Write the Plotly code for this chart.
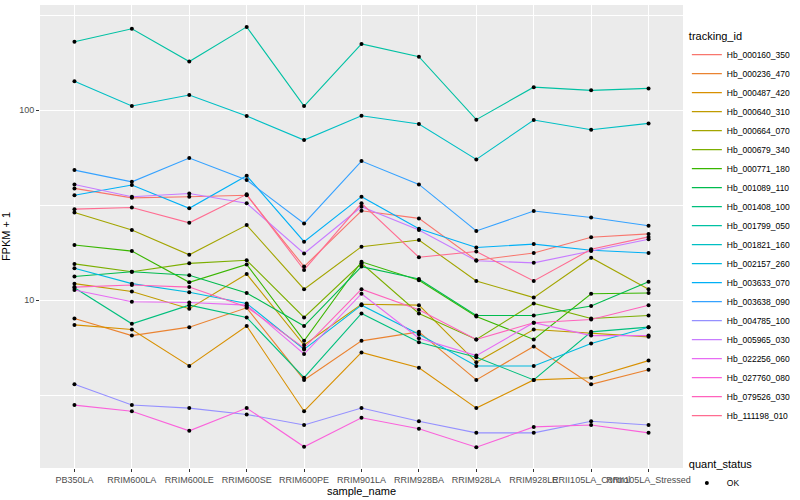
import plotly.graph_objects as go

samples = ["PB350LA", "RRIM600LA", "RRIM600LE", "RRIM600SE", "RRIM600PE",
           "RRIM901LA", "RRIM928BA", "RRIM928LA", "RRIM928LE",
           "RRII105LA_Control", "RRII105LA_Stressed"]

tracking_ids = ["Hb_000160_350", "Hb_000236_470", "Hb_000487_420", "Hb_000640_310",
                "Hb_000664_070", "Hb_000679_340", "Hb_000771_180", "Hb_001089_110",
                "Hb_001408_100", "Hb_001799_050", "Hb_001821_160", "Hb_002157_260",
                "Hb_003633_070", "Hb_003638_090", "Hb_004785_100", "Hb_005965_030",
                "Hb_022256_060", "Hb_027760_080", "Hb_079526_030", "Hb_111198_010"]

colors = ["#F8766D", "#EA8331", "#D89000", "#C09B00", "#A3A500", "#7CAE00", "#39B600",
          "#00BB4E", "#00BF7D", "#00C1A3", "#00BFC4", "#00BAE0", "#00B0F6", "#35A2FF",
          "#9590FF", "#C77CFF", "#E76BF3", "#FA62DB", "#FF62BC", "#FF6C91"]

# FPKM + 1 per sample (order of `samples`)
hb_000160_350 = [38.7, 34.5, 35.0, 35.6, 15.0, 29.5, 26.9, 16.2, 17.7, 21.4, 22.3]
hb_000236_470 = [8.0, 6.5, 7.2, 9.1, 3.8, 6.1, 6.8, 3.8, 5.7, 3.6, 4.3]
hb_000487_420 = [7.4, 7.0, 4.5, 7.3, 2.6, 5.3, 4.4, 2.7, 3.8, 3.9, 4.8]
hb_000640_310 = [12.2, 11.1, 9.0, 13.7, 5.8, 9.5, 9.4, 4.7, 7.0, 6.7, 6.4]
hb_000664_070 = [28.9, 23.4, 17.3, 24.8, 11.4, 19.1, 20.7, 12.6, 10.3, 16.7, 11.4]
hb_000679_340 = [15.5, 14.1, 15.6, 16.2, 8.1, 15.6, 8.5, 6.2, 9.6, 8.0, 8.3]
hb_000771_180 = [19.5, 18.1, 12.4, 15.4, 6.1, 15.9, 12.7, 8.2, 6.2, 10.8, 10.9]
hb_001089_110 = [13.3, 14.1, 13.5, 10.9, 7.3, 15.0, 12.9, 8.3, 8.3, 9.3, 12.5]
hb_001408_100 = [11.6, 7.5, 9.4, 8.1, 3.9, 8.5, 6.0, 5.0, 3.8, 6.8, 7.2]
hb_001799_050 = [229, 268, 180, 274, 105, 223, 191, 89, 132, 127, 130]
hb_001821_160 = [142, 105, 120, 93, 69.5, 93.3, 84.4, 55.0, 88.6, 78.8, 85.1]
hb_002157_260 = [14.7, 12.2, 11.0, 9.6, 5.5, 9.4, 6.6, 4.5, 4.5, 5.9, 7.2]
hb_003633_070 = [35.6, 40.3, 30.4, 45.1, 20.3, 35.0, 23.7, 18.9, 19.7, 18.3, 17.7]
hb_003638_090 = [48.3, 41.9, 55.9, 42.8, 25.3, 53.9, 40.6, 23.1, 29.4, 27.2, 24.6]
hb_004785_100 = [3.6, 2.8, 2.7, 2.5, 2.2, 2.7, 2.3, 2.0, 2.0, 2.3, 2.2]
hb_005965_030 = [40.6, 35.0, 36.4, 32.3, 17.6, 31.0, 23.4, 16.1, 15.7, 18.1, 20.9]
hb_022256_060 = [11.3, 9.8, 9.7, 9.4, 5.2, 10.8, 6.3, 5.1, 7.6, 6.5, 6.5]
hb_027760_080 = [2.8, 2.6, 2.05, 2.7, 1.69, 2.4, 2.1, 1.68, 2.15, 2.2, 2.0]
hb_079526_030 = [11.7, 12.0, 11.7, 9.2, 5.6, 11.4, 8.9, 6.2, 7.6, 7.9, 9.4]
hb_111198_010 = [30.1, 30.7, 25.5, 36.0, 14.4, 32.3, 16.8, 18.0, 12.6, 18.5, 21.5]

series_values = [hb_000160_350, hb_000236_470, hb_000487_420, hb_000640_310,
                 hb_000664_070, hb_000679_340, hb_000771_180, hb_001089_110,
                 hb_001408_100, hb_001799_050, hb_001821_160, hb_002157_260,
                 hb_003633_070, hb_003638_090, hb_004785_100, hb_005965_030,
                 hb_022256_060, hb_027760_080, hb_079526_030, hb_111198_010]

FONT = "Liberation Sans, Arial, Helvetica, sans-serif"

fig = go.Figure()
for name, vals, col in zip(tracking_ids, series_values, colors):
    fig.add_trace(go.Scatter(
        x=samples, y=vals, mode="lines", name=name,
        line=dict(color=col, width=1.1), legend="legend",
    ))

all_x, all_y = [], []
for vals in series_values:
    all_x.extend(samples)
    all_y.extend(vals)
fig.add_trace(go.Scatter(
    x=all_x, y=all_y, mode="markers", name="OK",
    marker=dict(color="black", size=4, symbol="circle"),
    legend="legend2",
))

fig.update_layout(
    width=800, height=500,
    margin=dict(l=40, r=117, t=5, b=32, autoexpand=False),
    paper_bgcolor="white", plot_bgcolor="#EBEBEB",
    font=dict(family=FONT, size=11, color="black"),
    legend=dict(
        title=dict(text="tracking_id", font=dict(size=11, color="black")),
        x=1.006, xanchor="left", y=0.955, yanchor="top",
        font=dict(size=8.5, color="black"), bgcolor="rgba(255,255,255,0)",
        tracegroupgap=0, itemwidth=30,
    ),
    legend2=dict(
        title=dict(text="quant_status", font=dict(size=11, color="black")),
        x=1.006, xanchor="left", y=0.03, yanchor="top",
        font=dict(size=8.5, color="black"), bgcolor="rgba(255,255,255,0)",
    ),
    xaxis=dict(
        type="category", categoryorder="array", categoryarray=samples,
        range=[-0.6, 10.6], showgrid=True, gridcolor="white", gridwidth=1.1,
        zeroline=False, showline=False, tickangle=0,
        ticks="outside", ticklen=3, tickcolor="#333333", tickwidth=1,
        tickfont=dict(size=9, color="#4D4D4D", family=FONT),
        title=dict(text="sample_name", font=dict(size=11), standoff=2),
        automargin=False,
    ),
    yaxis=dict(
        type="log", range=[0.116, 2.553],
        tickmode="array", tickvals=[10, 100], ticktext=["10", "100"],
        showgrid=True, gridcolor="white", gridwidth=1.1,
        zeroline=False, showline=False,
        ticks="outside", ticklen=3, tickcolor="#333333", tickwidth=1,
        tickfont=dict(size=9, color="#4D4D4D", family=FONT),
        minor=dict(tickmode="array", tickvals=[10 ** 0.5, 10 ** 1.5, 10 ** 2.5],
                   showgrid=True, gridcolor="white", gridwidth=0.5, ticks=""),
        title=dict(text="FPKM + 1", font=dict(size=11), standoff=7),
        automargin=False,
    ),
)

fig.write_html("out.html", config={"displayModeBar": False},
               post_script="document.body.style.margin='0';")
